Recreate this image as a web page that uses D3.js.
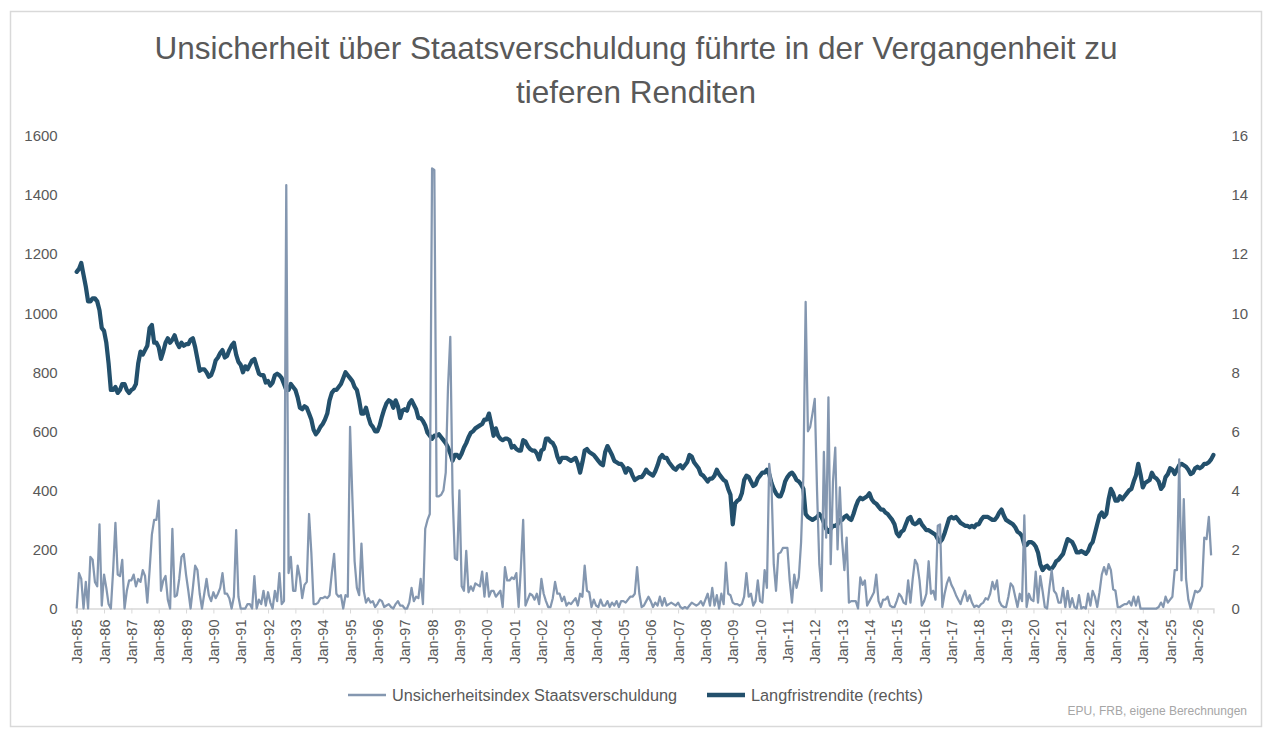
<!DOCTYPE html>
<html>
<head>
<meta charset="utf-8">
<script src="https://cdn.jsdelivr.net/npm/d3@7"></script>
<style>
  body { margin: 0; background: #fff; }
  text { font-family: "Liberation Sans", Arial, sans-serif; }
</style>
</head>
<body>
<svg id="chart"></svg>
<script>
const startYear = 1985;

// Langfristrendite in %, monthly, one row per year (Jan..Dec)
const renditeByYear = [
  [11.4, 11.5, 11.7, 11.3, 10.9, 10.4, 10.4, 10.5, 10.5, 10.4, 10.1, 9.5],
  [9.4, 9.0, 8.3, 7.4, 7.4, 7.5, 7.3, 7.4, 7.6, 7.6, 7.4, 7.3],
  [7.4, 7.45, 7.6, 8.3, 8.7, 8.6, 8.75, 8.9, 9.5, 9.6, 9.0, 9.0],
  [8.85, 8.45, 8.7, 9.0, 9.15, 9.0, 9.1, 9.25, 9.0, 8.85, 9.0, 8.9],
  [8.95, 8.95, 9.1, 9.15, 8.85, 8.45, 8.05, 8.1, 8.1, 8.0, 7.85, 7.9],
  [8.1, 8.4, 8.5, 8.65, 8.75, 8.5, 8.55, 8.75, 8.9, 9.0, 8.6, 8.35],
  [8.25, 8.0, 8.2, 8.1, 8.25, 8.4, 8.45, 8.2, 7.95, 7.9, 7.9, 7.65],
  [7.7, 7.55, 7.65, 7.9, 7.95, 7.9, 7.8, 7.6, 7.4, 7.4, 7.6, 7.5],
  [7.4, 7.15, 6.8, 6.75, 6.85, 6.8, 6.6, 6.4, 6.05, 5.9, 6.0, 6.15],
  [6.25, 6.4, 6.6, 7.05, 7.3, 7.4, 7.4, 7.5, 7.6, 7.8, 8.0, 7.9],
  [7.8, 7.7, 7.5, 7.4, 7.05, 6.6, 6.6, 6.8, 6.5, 6.25, 6.15, 6.0],
  [6.0, 6.2, 6.5, 6.75, 6.95, 7.05, 7.0, 6.8, 7.05, 6.85, 6.45, 6.7],
  [6.75, 6.7, 6.95, 7.05, 6.9, 6.75, 6.45, 6.45, 6.35, 6.2, 5.95, 5.85],
  [5.75, 5.85, 5.85, 5.9, 5.8, 5.7, 5.6, 5.45, 5.25, 5.0, 5.2, 5.2],
  [5.1, 5.25, 5.45, 5.6, 5.8, 5.95, 6.0, 6.1, 6.15, 6.2, 6.25, 6.4],
  [6.4, 6.6, 6.25, 5.85, 6.1, 5.85, 5.75, 5.7, 5.75, 5.75, 5.7, 5.45],
  [5.5, 5.4, 5.35, 5.35, 5.7, 5.65, 5.5, 5.4, 5.35, 5.35, 5.25, 5.05],
  [5.35, 5.4, 5.75, 5.75, 5.65, 5.6, 5.45, 5.15, 4.95, 5.1, 5.1, 5.1],
  [5.05, 5.0, 5.05, 5.1, 4.9, 4.6, 4.95, 5.35, 5.4, 5.3, 5.25, 5.2],
  [5.1, 5.0, 4.9, 4.85, 5.3, 5.5, 5.35, 5.2, 5.0, 4.95, 4.9, 4.9],
  [4.8, 4.6, 4.75, 4.7, 4.5, 4.35, 4.4, 4.45, 4.45, 4.55, 4.7, 4.6],
  [4.55, 4.5, 4.65, 4.85, 5.1, 5.2, 5.1, 5.1, 4.95, 4.85, 4.75, 4.7],
  [4.8, 4.85, 4.75, 4.85, 4.95, 5.2, 5.15, 4.95, 4.85, 4.75, 4.55, 4.5],
  [4.4, 4.3, 4.4, 4.4, 4.5, 4.7, 4.55, 4.45, 4.35, 4.3, 4.05, 3.85],
  [2.85, 3.55, 3.65, 3.7, 3.9, 4.35, 4.5, 4.45, 4.3, 4.15, 4.2, 4.4],
  [4.5, 4.6, 4.6, 4.7, 4.55, 4.25, 4.05, 3.9, 3.8, 3.8, 4.0, 4.3],
  [4.45, 4.55, 4.6, 4.5, 4.35, 4.3, 4.2, 4.05, 3.2, 3.1, 3.05, 3.0],
  [3.05, 3.1, 3.2, 3.1, 2.9, 2.7, 2.6, 2.7, 2.8, 2.8, 2.85, 3.0],
  [3.0, 3.1, 3.15, 3.05, 3.0, 3.2, 3.45, 3.65, 3.75, 3.7, 3.75, 3.8],
  [3.9, 3.7, 3.6, 3.55, 3.45, 3.35, 3.35, 3.25, 3.2, 3.1, 3.0, 2.85],
  [2.55, 2.45, 2.6, 2.65, 2.85, 3.05, 3.1, 2.9, 2.85, 2.9, 3.0, 2.85],
  [2.75, 2.65, 2.65, 2.6, 2.55, 2.5, 2.35, 2.25, 2.35, 2.55, 2.8, 3.05],
  [3.1, 3.05, 3.1, 3.0, 2.9, 2.85, 2.8, 2.8, 2.75, 2.8, 2.75, 2.85],
  [2.85, 3.0, 3.1, 3.1, 3.1, 3.05, 3.0, 3.0, 3.1, 3.25, 3.35, 3.15],
  [3.0, 2.95, 2.9, 2.85, 2.75, 2.6, 2.55, 2.45, 2.15, 2.15, 2.25, 2.25],
  [2.2, 2.1, 1.9, 1.5, 1.3, 1.4, 1.45, 1.35, 1.35, 1.45, 1.6, 1.65],
  [1.75, 1.85, 2.1, 2.35, 2.3, 2.25, 2.1, 1.9, 1.9, 1.95, 1.9, 1.85],
  [1.95, 2.15, 2.25, 2.55, 2.85, 3.15, 3.25, 3.1, 3.2, 3.7, 4.05, 3.9],
  [3.65, 3.65, 3.8, 3.7, 3.8, 3.9, 4.0, 4.05, 4.3, 4.5, 4.9, 4.55],
  [4.1, 4.25, 4.3, 4.35, 4.6, 4.45, 4.4, 4.3, 4.05, 4.15, 4.45, 4.55],
  [4.75, 4.7, 4.55, 4.7, 4.85, 4.9, 4.85, 4.8, 4.7, 4.55, 4.6, 4.75],
  [4.8, 4.75, 4.8, 4.9, 4.9, 4.95, 5.05, 5.2]
];

// Unsicherheitsindex Staatsverschuldung, monthly, one row per year
const unsicherheitByYear = [
  [0, 120, 100, 0, 90, 0, 175, 165, 90, 75, 285, 10],
  [115, 70, 15, 0, 130, 290, 115, 110, 165, 0, 60, 95],
  [95, 115, 75, 100, 90, 130, 110, 20, 130, 250, 300, 300],
  [365, 60, 95, 110, 30, 0, 270, 40, 45, 100, 175, 185],
  [115, 60, 0, 70, 145, 130, 50, 0, 50, 100, 45, 25],
  [55, 35, 50, 70, 120, 50, 50, 35, 0, 40, 265, 40],
  [0, 0, 0, 15, 15, 0, 110, 0, 30, 15, 60, 10],
  [55, 20, 0, 60, 25, 120, 15, 25, 1434, 120, 175, 60],
  [60, 145, 105, 35, 80, 90, 320, 190, 15, 15, 20, 35],
  [35, 40, 35, 45, 120, 185, 50, 40, 45, 0, 45, 40],
  [615, 380, 160, 70, 45, 220, 60, 20, 35, 20, 25, 5],
  [15, 30, 25, 5, 10, 15, 5, 0, 15, 25, 10, 10],
  [0, 0, 20, 70, 25, 40, 35, 100, 15, 270, 300, 320],
  [1490, 1485, 380, 380, 385, 400, 460, 750, 920, 390, 170, 165],
  [400, 75, 60, 195, 55, 75, 60, 85, 80, 75, 125, 40],
  [120, 40, 60, 60, 40, 50, 60, 5, 140, 95, 95, 105],
  [100, 120, 5, 140, 300, 10, 30, 50, 45, 30, 50, 15],
  [100, 50, 25, 5, 5, 35, 90, 50, 50, 25, 40, 10],
  [20, 15, 25, 35, 10, 50, 40, 145, 60, 55, 5, 30],
  [10, 5, 30, 10, 10, 25, 5, 20, 10, 25, 5, 25],
  [25, 20, 30, 40, 40, 50, 140, 50, 5, 10, 25, 40],
  [25, 5, 20, 10, 40, 10, 35, 10, 15, 20, 15, 10],
  [20, 5, 0, 5, 0, 10, 20, 15, 10, 15, 25, 10],
  [30, 50, 10, 70, 10, 45, 0, 50, 15, 155, 50, 45],
  [20, 15, 15, 10, 15, 40, 120, 40, 50, 10, 25, 95],
  [25, 20, 130, 70, 490, 420, 150, 60, 185, 190, 205, 205],
  [205, 95, 20, 115, 70, 105, 225, 450, 1038, 600, 615, 660],
  [710, 400, 150, 60, 530, 240, 715, 150, 430, 545, 200, 410],
  [230, 130, 240, 20, 25, 25, 25, 0, 105, 80, 95, 10],
  [25, 40, 55, 115, 25, 5, 30, 30, 40, 10, 5, 5],
  [25, 50, 40, 20, 15, 95, 20, 100, 165, 150, 95, 10],
  [25, 50, 160, 50, 60, 30, 280, 285, 5, 50, 85, 105],
  [80, 65, 45, 30, 15, 40, 60, 25, 45, 20, 5, 10],
  [5, 15, 20, 35, 30, 50, 90, 65, 95, 25, 10, 5],
  [5, 40, 85, 75, 40, 5, 50, 25, 315, 5, 50, 30],
  [25, 125, 20, 110, 60, 5, 0, 70, 130, 60, 50, 20],
  [20, 70, 5, 60, 5, 35, 5, 0, 45, 0, 5, 0],
  [50, 10, 60, 40, 5, 55, 115, 140, 115, 150, 130, 65],
  [60, 5, 5, 10, 15, 15, 25, 10, 40, 10, 40, 0],
  [0, 0, 0, 0, 0, 0, 0, 5, 20, 5, 40, 20],
  [30, 40, 130, 130, 505, 95, 370, 100, 30, 0, 30, 60],
  [55, 60, 75, 240, 235, 310, 180]
];

const leftTicks = [0, 200, 400, 600, 800, 1000, 1200, 1400, 1600];
const rightTicks = [0, 2, 4, 6, 8, 10, 12, 14, 16];
const titleLines = ["Unsicherheit über Staatsverschuldung führte in der Vergangenheit zu", "tieferen Renditen"];
const seriesNames = ["Unsicherheitsindex Staatsverschuldung", "Langfristrendite (rechts)"];
const sourceNote = "EPU, FRB, eigene Berechnungen";

const W = 1270, H = 734;
const plot = {left: 76.7, right: 1213.4, top: 136, bottom: 608.5};
const textColor = "#595959";
const colIndex = "#8497b0", colYield = "#23506c";

const rendite = renditeByYear.flat();
const unsicherheit = unsicherheitByYear.flat();
const nMonths = Math.max(rendite.length, unsicherheit.length);

const svg = d3.select("#chart").attr("width", W).attr("height", H);

svg.append("rect")
    .attr("x", 10.5).attr("y", 11.5)
    .attr("width", 1251).attr("height", 715)
    .attr("fill", "#fff").attr("stroke", "#d9d9d9").attr("stroke-width", 1.5);

const x = d3.scaleLinear().domain([0, nMonths - 1]).range([plot.left, plot.right]);
const yL = d3.scaleLinear().domain([0, 1600]).range([plot.bottom, plot.top]);
const yR = d3.scaleLinear().domain([0, 16]).range([plot.bottom, plot.top]);

// title
svg.append("g").selectAll("text")
    .data(titleLines)
    .enter().append("text")
    .attr("x", 636)
    .attr("y", (d, i) => 59 + i * 44)
    .attr("text-anchor", "middle")
    .attr("font-size", 31.5)
    .attr("fill", textColor)
    .text(d => d);

// x axis
const xAxis = d3.axisBottom(x)
    .tickValues(d3.range(0, nMonths, 12))
    .tickSizeOuter(0)
    .tickSize(5)
    .tickFormat(i => "Jan-" + String((startYear + i / 12) % 100).padStart(2, "0"));

const gx = svg.append("g")
    .attr("transform", `translate(0,${plot.bottom})`)
    .call(xAxis);
gx.select(".domain").attr("stroke", "#d9d9d9").attr("stroke-width", 1.5);
gx.selectAll(".tick line").attr("stroke", "#d9d9d9");
gx.selectAll(".tick text")
    .attr("transform", "rotate(-90)")
    .attr("text-anchor", "end")
    .attr("x", -11)
    .attr("y", 0)
    .attr("dy", "0.35em")
    .attr("font-size", 14.5)
    .attr("font-family", "Liberation Sans, Arial, sans-serif")
    .attr("fill", textColor);

// y axes
const gl = svg.append("g")
    .attr("transform", `translate(${plot.left},0)`)
    .call(d3.axisLeft(yL).tickValues(leftTicks).tickFormat(d3.format("d")).tickSize(0).tickPadding(19));
const gr = svg.append("g")
    .attr("transform", `translate(${plot.right},0)`)
    .call(d3.axisRight(yR).tickValues(rightTicks).tickFormat(d3.format("d")).tickSize(0).tickPadding(18));
for (const g of [gl, gr]) {
    g.select(".domain").remove();
    g.selectAll("text")
        .attr("font-size", 15)
        .attr("font-family", "Liberation Sans, Arial, sans-serif")
        .attr("fill", textColor);
}

// lines
svg.append("path")
    .datum(rendite)
    .attr("fill", "none")
    .attr("stroke", colYield)
    .attr("stroke-width", 4.25)
    .attr("stroke-linejoin", "round")
    .attr("stroke-linecap", "round")
    .attr("d", d3.line().x((d, i) => x(i)).y(d => yR(d)));

svg.append("path")
    .datum(unsicherheit)
    .attr("fill", "none")
    .attr("stroke", colIndex)
    .attr("stroke-width", 2.25)
    .attr("stroke-linejoin", "round")
    .attr("d", d3.line().x((d, i) => x(i)).y(d => yL(d)));

// legend
const legend = svg.selectAll(".legend")
    .data(seriesNames)
    .enter().append("g")
    .attr("class", "legend")
    .attr("transform", (d, i) => `translate(${i === 0 ? 348 : 707}, 695)`);

legend.append("line")
    .attr("x1", 0).attr("x2", 38)
    .attr("stroke", (d, i) => i === 0 ? colIndex : colYield)
    .attr("stroke-width", (d, i) => i === 0 ? 2.5 : 4.5);

legend.append("text")
    .attr("x", 44)
    .attr("dy", "0.35em")
    .attr("font-size", 16.3)
    .attr("fill", textColor)
    .text(d => d);

svg.append("text")
    .attr("x", 1247).attr("y", 715)
    .attr("text-anchor", "end")
    .attr("font-size", 12)
    .attr("fill", "#a6a6a6")
    .text(sourceNote);
</script>
</body>
</html>
